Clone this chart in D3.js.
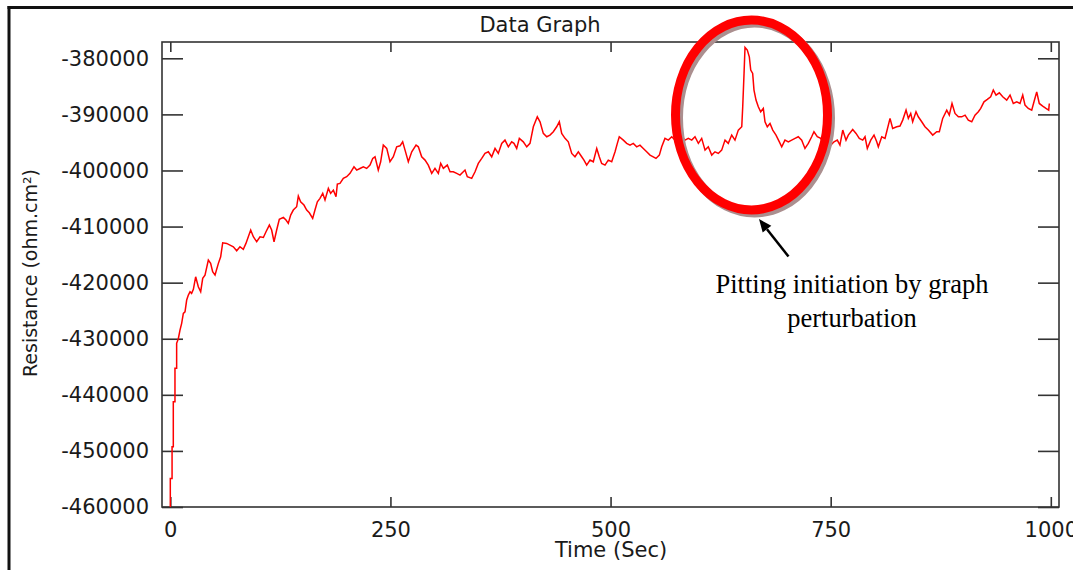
<!DOCTYPE html>
<html>
<head>
<meta charset="utf-8">
<script src="https://cdn.jsdelivr.net/npm/d3@7"></script>
<style>
  html, body { margin: 0; padding: 0; background: #fff; }
  svg { display: block; }
</style>
</head>
<body>
<svg id="chart" width="1073" height="570"></svg>
<script>
// ---- data ----
const time = [
  0, 0, 2, 2, 3.4, 3.4, 5.3, 5.3, 7.2, 7.2, 9.1, 11, 12.9, 14.8, 16.7, 18.6, 20.5, 22.4, 24.2, 26.2,
  28.8, 31.8, 34.5, 36.8, 39.4, 43.2, 45.8, 48.1, 50.8, 54.6, 57.2, 59.5, 64, 67.8, 71.6, 75.4, 79.1, 82.9, 85.9, 88.6,
  91.3, 94.3, 98.1, 101.9, 105.7, 108.7, 112.5, 115.1, 117.8, 120.8, 123.8, 128.4, 131.4, 134, 136.7, 139.7, 143.5, 145.4, 148, 151.8,
  154.9, 157.9, 161.7, 164.3, 167, 170, 173.1, 175.7, 179.5, 182.1, 185.2, 188.2, 189.7, 192.7, 196.5, 200.3, 204.1, 208.6, 211.7, 215.4,
  219.2, 223, 226.8, 229.9, 232.5, 236.2, 238.9, 241.9, 245.8, 249.5, 253.3, 257.1, 260.9, 263.9, 266.6, 270.3, 274.2, 279.1, 281.7, 285.5,
  289.3, 293, 296.9, 300.6, 304.4, 307.1, 310.1, 314.6, 317.7, 321.4, 325.3, 329, 334.7, 337.3, 342.3, 346.1, 349.8, 353.7, 357.4, 361.2,
  365, 368.8, 372.5, 376.4, 380.1, 383.9, 387.7, 390.3, 393.4, 396.4, 400.9, 404.8, 408.5, 412.3, 416.8, 419.9, 423.6, 427.5, 431.2, 435,
  438.8, 441.8, 444.5, 448.3, 452, 455.9, 459.6, 463.4, 467.2, 469.8, 472.9, 476.7, 480.4, 484.3, 487.2, 489.9, 493.7, 497.4, 501.3, 505.1,
  507.7, 509.9, 514.5, 518.3, 522.1, 525.8, 529.7, 533.4, 537.2, 541, 544.8, 548.5, 551.6, 555.4, 558.1, 561.8, 565.6, 569.5, 573.2, 577,
  580.8, 584.6, 588.3, 592.2, 595.9, 599.7, 603.5, 607.3, 611, 614.9, 618.6, 622.4, 626.2, 630, 633.7, 637.6, 641.3, 645.1, 649, 650.1,
  651.6, 652.7, 655.3, 657.6, 659.2, 661.4, 662.9, 665.2, 667.8, 670.5, 673.5, 675.4, 678, 681.1, 684.2, 687.9, 691.7, 694.4, 698.1, 701.9,
  705.7, 709.5, 713.2, 717.1, 720.8, 724.6, 728.4, 731, 734.8, 738.7, 742.4, 746.2, 750, 753.8, 757.5, 760.5, 763.7, 767.4, 770, 775,
  778.8, 782.5, 786.4, 789, 791.6, 795.5, 799.2, 802.3, 804.1, 808, 811.7, 813.6, 817.4, 820.4, 825, 828.7, 831.8, 835.6, 838.2, 840.9,
  843.1, 846.9, 849.5, 853.4, 857.1, 860.9, 865.9, 870.4, 873.4, 877.2, 881.8, 884.7, 887.8, 891.2, 895, 898.8, 902.6, 906.3, 910.2, 913.9,
  917.7, 920.4, 924.1, 927.9, 931.7, 934.7, 937.8, 941.5, 945.4, 949.9, 953.7, 957.4, 961.3, 965, 968.1, 970.7, 974.4, 978.3, 980.9, 984,
  986.9, 990.8, 994.5, 997.6, 998.3
];
const resistance = [
  -460000, -454900, -454900, -449250, -449250, -441230, -441230, -435280, -435280, -430820, -430000, -428450, -427260, -425470, -425190, -423100, -422210, -421620, -421910, -421200,
  -418950, -420730, -421620, -419230, -418650, -415970, -416560, -418060, -418650, -416560, -415380, -412890, -413000, -413300, -413600, -414310, -413600, -414070, -413000, -411820,
  -410620, -411820, -412710, -411820, -411940, -410930, -409730, -410620, -412710, -410620, -408720, -408360, -408840, -409430, -407950, -407060, -406470, -404560, -405580, -406170,
  -407060, -407540, -408540, -407060, -405580, -404970, -404080, -405270, -403190, -404080, -403500, -404690, -402430, -402310, -401410, -401120, -400520, -399340, -399930, -399640,
  -399340, -399640, -399040, -397850, -397560, -399930, -398450, -395470, -396060, -398450, -397560, -395780, -395600, -394890, -396370, -398450, -396670, -395480, -395780, -397560,
  -398150, -399040, -400520, -399630, -400520, -398740, -399630, -399040, -400230, -400230, -400520, -400820, -399930, -401120, -401410, -400230, -398740, -397850, -396960, -396670,
  -397560, -396070, -396960, -395170, -394590, -395780, -394890, -395170, -396070, -394280, -394890, -395780, -395170, -392210, -390430, -391320, -393390, -393990, -393690, -393100,
  -392210, -391320, -393390, -394280, -394890, -396960, -397560, -396670, -397560, -398150, -399040, -398150, -398450, -396070, -397560, -398740, -399040, -398150, -398450, -396670,
  -395170, -393990, -394590, -395170, -395480, -395170, -395780, -395480, -396070, -396670, -397260, -397560, -397850, -397260, -395780, -394280, -394590, -393990, -394590, -393690,
  -393990, -394590, -394280, -394590, -393990, -395170, -394280, -396370, -395780, -397260, -396670, -396960, -396370, -394590, -395170, -393690, -394590, -392800, -392210, -388650,
  -382700, -378060, -378540, -379740, -382110, -382700, -385670, -387450, -388650, -389540, -388940, -391320, -392210, -391610, -392800, -393690, -394890, -395780, -394590, -394890,
  -394590, -394280, -393990, -394590, -396070, -395170, -393990, -393100, -393990, -394280, -395170, -396070, -395480, -394890, -394590, -395480, -392800, -394590, -393690, -392680,
  -393390, -394280, -394590, -393990, -396070, -394590, -393690, -394890, -395780, -393990, -394280, -393100, -390720, -392500, -392210, -392090, -391020, -389240, -390720, -389830,
  -391320, -389540, -390430, -391320, -392210, -392800, -393690, -393100, -393100, -390720, -389240, -390130, -388050, -389830, -390430, -390430, -390130, -391020, -391320, -390130,
  -389540, -388940, -387760, -387330, -386870, -385670, -386560, -386150, -386870, -387450, -386560, -388050, -387760, -388050, -386560, -388350, -388940, -389240, -387760, -385980,
  -388050, -388520, -388940, -389240, -388050
];
const xTickValues = [0, 250, 500, 750, 1000];
const yTickValues = [-380000, -390000, -400000, -410000, -420000, -430000, -440000, -450000, -460000];
const chartTitle = "Data Graph";
const xLabel = "Time (Sec)";
const yLabel = "Resistance (ohm.cm\u00B2)";
const noteLines = ["Pitting initiation by graph", "perturbation"];

// ---- drawing ----
(function () {
const svg = d3.select("#chart");
const pL = 162, pR = 1059, pT = 42, pB = 507;
const axisColor = "#333";
const sans = "'DejaVu Sans', Verdana, sans-serif";

const x = d3.scaleLinear().domain([-9.43, 1009.3]).range([pL, pR]);
const y = d3.scaleLinear().domain([-460000, -377094]).range([pB, pT]);

svg.append("rect").attr("width", 1073).attr("height", 570).attr("fill", "#fff");

// outer frame (top + left visible)
svg.append("line").attr("x1", 7.5).attr("x2", 1073).attr("y1", 7.5).attr("y2", 7.5)
  .attr("stroke", "#111").attr("stroke-width", 3);
svg.append("line").attr("x1", 9).attr("x2", 9).attr("y1", 6).attr("y2", 570)
  .attr("stroke", "#111").attr("stroke-width", 3);

// plot frame
svg.append("rect").attr("x", pL).attr("y", pT).attr("width", pR - pL).attr("height", pB - pT)
  .attr("fill", "none").attr("stroke", axisColor).attr("stroke-width", 1.6);

function styleAxis(g) {
  g.select(".domain").remove();
  g.selectAll(".tick line").attr("stroke", axisColor).attr("stroke-width", 1.6);
  g.selectAll(".tick text").attr("fill", "#1a1a1a").style("font-family", sans).style("font-size", "21px");
}

svg.append("g").attr("transform", `translate(${pL},0)`)
  .call(d3.axisLeft(y).tickValues(yTickValues).tickSize(-21).tickPadding(13).tickFormat(d => String(d)))
  .call(styleAxis);
svg.append("g").attr("transform", `translate(${pR},0)`)
  .call(d3.axisRight(y).tickValues(yTickValues).tickSize(-21).tickFormat(""))
  .call(styleAxis);
svg.append("g").attr("transform", `translate(0,${pB})`)
  .call(d3.axisBottom(x).tickValues(xTickValues).tickSize(-10).tickPadding(15).tickFormat(d => String(d)))
  .call(styleAxis);
svg.append("g").attr("transform", `translate(0,${pT})`)
  .call(d3.axisTop(x).tickValues(xTickValues).tickSize(-10).tickFormat(""))
  .call(styleAxis);

// data line
const pts = time.map((t, i) => [t, resistance[i]]);
svg.append("path").datum(pts)
  .attr("fill", "none").attr("stroke", "#ff0000").attr("stroke-width", 1.5)
  .attr("d", d3.line().x(d => x(d[0])).y(d => y(d[1])));

// titles
svg.append("text").attr("x", 540).attr("y", 31.5).attr("text-anchor", "middle")
  .style("font-family", sans).style("font-size", "21px").attr("fill", "#1a1a1a").text(chartTitle);
svg.append("text").attr("x", 611).attr("y", 557).attr("text-anchor", "middle")
  .style("font-family", sans).style("font-size", "21px").attr("fill", "#1a1a1a").text(xLabel);
svg.append("text").attr("transform", "translate(37,273) rotate(-90)").attr("text-anchor", "middle")
  .style("font-family", sans).style("font-size", "19px").attr("fill", "#1a1a1a").text(yLabel);

// annotation ellipse (shadow + red ring)
svg.append("ellipse").attr("cx", 754.5).attr("cy", 118).attr("rx", 76).attr("ry", 95)
  .attr("fill", "none").attr("stroke", "#ab8f8f").attr("stroke-width", 9);
svg.append("ellipse").attr("cx", 751.5).attr("cy", 115).attr("rx", 76).attr("ry", 95)
  .attr("fill", "none").attr("stroke", "#ff0000").attr("stroke-width", 9);

// arrow
svg.append("line").attr("x1", 788.5).attr("y1", 256.5).attr("x2", 767).attr("y2", 229.2)
  .attr("stroke", "#000").attr("stroke-width", 2.5);
svg.append("path").attr("d", "M759,219 L771.3,225.8 L762.7,232.6 Z").attr("fill", "#000");

// annotation text
const note = svg.append("text").attr("text-anchor", "middle")
  .style("font-family", "'Liberation Serif', 'Times New Roman', serif").style("font-size", "26.5px").attr("fill", "#000");
noteLines.forEach((s, i) => {
  note.append("tspan").attr("x", 852).attr("y", 293 + i * 34).text(s);
});
})();
</script>
</body>
</html>
